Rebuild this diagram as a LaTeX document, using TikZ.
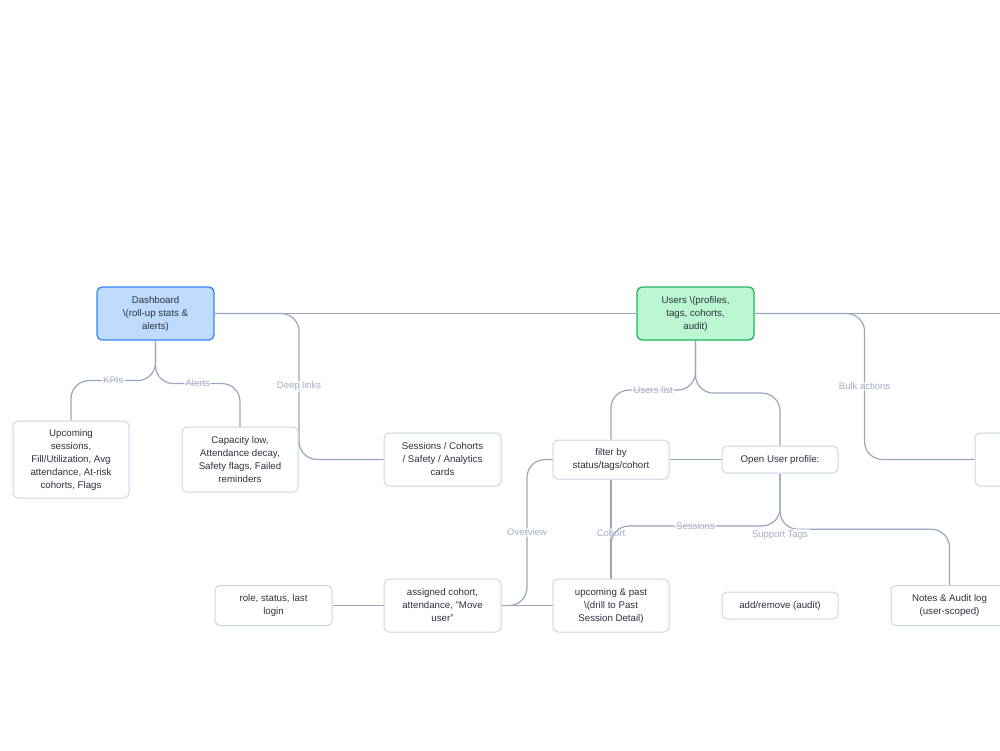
\documentclass[tikz,border=0pt]{standalone}
\usepackage{fontspec}
\setmainfont{Liberation Sans}
\usetikzlibrary{calc}
\definecolor{conncol}{HTML}{9AA6BC}
\definecolor{lblcol}{HTML}{A3AEC4}
\definecolor{boxcol}{HTML}{CDD5E2}
\definecolor{txtcol}{HTML}{2B3240}
\definecolor{bluefill}{HTML}{BFDBFE}
\definecolor{blueline}{HTML}{3B82F6}
\definecolor{greenfill}{HTML}{BBF7D0}
\definecolor{greenline}{HTML}{22B55E}
\pgfdeclarelayer{bg}
\pgfsetlayers{bg,main}
\tikzset{
  box/.style={draw=boxcol, line width=1pt, rounded corners=5pt, fill=white,
    align=center, text=txtcol, inner sep=0pt,
    font=\fontsize{9.7}{13}\selectfont},
  bluebox/.style={box, draw=blueline, fill=bluefill, line width=1.3pt},
  greenbox/.style={box, draw=greenline, fill=greenfill, line width=1.3pt},
  conn/.style={draw=conncol, line width=1.2pt, rounded corners=18pt},
  lbl/.style={font=\fontsize{9.5}{11}\selectfont, text=lblcol, fill=white,
    fill opacity=0.65, text opacity=1, inner sep=1.5pt, rounded corners=0pt},
}
\begin{document}
\begin{tikzpicture}[x=1pt,y=-1pt]
\useasboundingbox (0,0) rectangle (1000,750);

% top row
\node[bluebox, minimum width=117, minimum height=53] (dash) at (155.5,313.5)
  {Dashboard\\\textbackslash(roll-up stats \&\\alerts)};
\node[greenbox, minimum width=117, minimum height=53] (users) at (695.5,313.5)
  {Users \textbackslash(profiles,\\tags, cohorts,\\audit)};
\coordinate (offR) at (1010,313.5);

% second row
\node[box, minimum width=116, minimum height=77] (upc) at (71,459.5)
  {Upcoming\\sessions,\\Fill/Utilization, Avg\\attendance, At-risk\\cohorts, Flags};
\node[box, minimum width=116, minimum height=65] (cap) at (240,459.5)
  {Capacity low,\\Attendance decay,\\Safety flags, Failed\\reminders};
\node[box, minimum width=117, minimum height=53] (seco) at (442.5,459.5)
  {Sessions / Cohorts\\/ Safety / Analytics\\cards};
\node[box, minimum width=116, minimum height=39] (filter) at (611,459.5)
  {filter by\\status/tags/cohort};
\node[box, minimum width=116, minimum height=27] (open) at (780,459.5)
  {Open User profile:};
\node[box, minimum width=117, minimum height=53] (rbox) at (1033.5,459.5) {};

% third row
\node[box, minimum width=117, minimum height=40] (role) at (273.5,605.5)
  {role, status, last\\login};
\node[box, minimum width=117, minimum height=53] (assigned) at (442.5,605.5)
  {assigned cohort,\\attendance, "Move\\user"};
\node[box, minimum width=116, minimum height=53] (upcp) at (611,605.5)
  {upcoming \& past\\\textbackslash(drill to Past\\Session Detail)};
\node[box, minimum width=116, minimum height=27] (addrem) at (780,605.5)
  {add/remove (audit)};
\node[box, minimum width=117, minimum height=40] (notes) at (949.5,605.5)
  {Notes \& Audit log\\(user-scoped)};

\begin{pgfonlayer}{bg}
\draw[conn] (dash.east) -- (users.west);
\draw[conn] (users.east) -- (offR);
\draw[conn] (dash.east) -| ($(dash.east)!.5!(seco.west)$) node[lbl]{Deep links} |- (seco.west);
\draw[conn] (dash.south) |- ($(dash.south)!.5!(upc.north)$) node[lbl]{KPIs} -| (upc.north);
\draw[conn] (dash.south) |- ($(dash.south)!.5!(cap.north)$) node[lbl]{Alerts} -| (cap.north);
\draw[conn] (users.south) |- ($(users.south)!.5!(filter.north)$) node[lbl]{Users list} -| (filter.north);
\draw[conn] (users.south) |- ($(users.south)!.5!(open.north)$) -| (open.north);
\draw[conn] (users.east) -| ($(users.east)!.5!(rbox.west)$) node[lbl]{Bulk actions} |- (rbox.west);
\draw[conn] (filter.east) -- (open.west);
\draw[conn] (filter.west) -| ($(filter.west)!.5!(assigned.east)$) node[lbl]{Overview} |- (assigned.east);
\draw[conn] (filter.south) -- node[lbl,pos=.54]{Cohort} (upcp.north);
\draw[conn] (open.south) |- ($(open.south)!.5!(upcp.north)$) node[lbl]{Sessions} -| (upcp.north);
\draw[conn] (open.south) |- ($(open.south)!.5!(notes.north)$) -| (notes.north);
\path (open.south) -- node[lbl,pos=.52]{Support Tags} (addrem.north);
\draw[conn] (role.east) -- (assigned.west);
\draw[conn] (assigned.east) -- (upcp.west);
\end{pgfonlayer}
\end{tikzpicture}
\end{document}
